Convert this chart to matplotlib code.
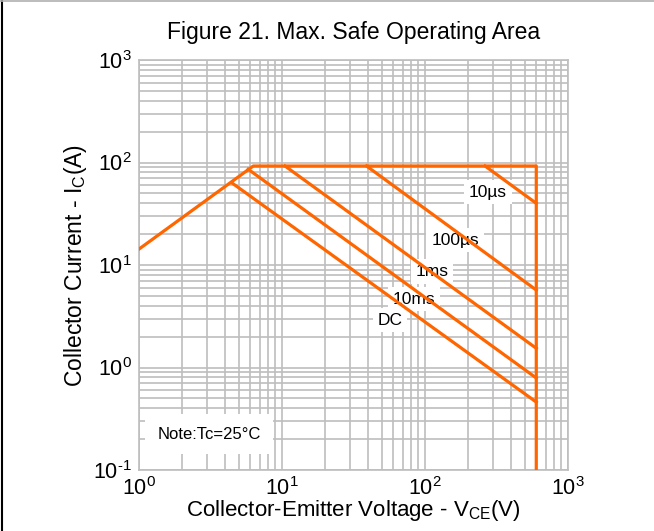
import matplotlib
matplotlib.use("Agg")
import matplotlib.pyplot as plt
from matplotlib.lines import Line2D

plt.rcParams['font.family'] = ['Liberation Sans', 'DejaVu Sans']
plt.rcParams['mathtext.fontset'] = 'custom'
plt.rcParams['mathtext.rm'] = 'Liberation Sans'
plt.rcParams['mathtext.it'] = 'Liberation Sans'

# SOA boundary (envelope): rising limit, current limit, voltage limit
env_v = [1, 6.3, 600, 600]
env_i = [14.3, 92.5, 92.5, 0.1]

# pulse-width limit lines
pulse_names = ["DC", "10ms", "1ms", "100µs", "10µs"]
pulse_v = [[4.45, 600], [5.8, 600], [10.5, 600], [39, 600], [263, 600]]
pulse_i = [[63.5, 0.46], [86, 0.79], [92.5, 1.54], [92.5, 5.7], [92.5, 40]]

# label positions (data coords)
label_v = [57, 84, 112, 162, 276]
label_i = [2.9, 4.65, 8.7, 17.5, 51.5]

x_ticks = [1, 10, 100, 1000]
x_tick_labels = ["10$^{0}$", "10$^{1}$", "10$^{2}$", "10$^{3}$"]
y_ticks = [0.1, 1, 10, 100, 1000]
y_tick_labels = ["10$^{\\text{-}1}$", "10$^{0}$", "10$^{1}$", "10$^{2}$", "10$^{3}$"]

orange = "#ff6600"
grid_c = "#bebebe"

fig = plt.figure(figsize=(6.54, 5.31), dpi=100)
ax = fig.add_axes([0.2125, 0.1149, 0.656, 0.772])
ax.set_xscale("log")
ax.set_yscale("log")
ax.set_xlim(1, 1000)
ax.set_ylim(0.1, 1000)
ax.set_xticks(x_ticks, x_tick_labels)
ax.set_yticks(y_ticks, y_tick_labels)

ax.grid(True, which="both", color=grid_c, linewidth=1.2, zorder=0)
ax.set_axisbelow(True)
for s in ax.spines.values():
    s.set_color(grid_c)
    s.set_linewidth(1.2)
ax.tick_params(which="both", length=0, labelsize=15.5)
ax.tick_params(axis="x", pad=5)
ax.tick_params(axis="y", pad=5)

for name, lv, li in zip(pulse_names, label_v, label_i):
    ax.text(lv, li, name, fontsize=12.5, ha="center", va="center", zorder=2,
            bbox=dict(facecolor="white", edgecolor="none", pad=3.5))

ax.text(3.1, 0.224, "Note:Tc=25°C", fontsize=12, ha="center", va="center", zorder=2,
        bbox=dict(facecolor="white", edgecolor="none", pad=9))

ax.plot(env_v, env_i, color=orange, linewidth=2.3, zorder=3)
for v, i in zip(pulse_v, pulse_i):
    ax.plot(v, i, color=orange, linewidth=2.3, zorder=3)

ax.set_title("Figure 21. Max. Safe Operating Area", fontsize=16.5, pad=15)
ax.set_xlabel("Collector-Emitter Voltage - V$_{\\mathrm{CE}}$(V)", fontsize=16, labelpad=-1)
ax.set_ylabel("Collector Current - I$_{\\mathrm{C}}$(A)", fontsize=16.5, labelpad=3)

# page border remnants
fig.add_artist(Line2D([0.003, 0.003], [0, 1], color="black", linewidth=1.5))
fig.add_artist(Line2D([0, 1], [0.999, 0.999], color="#b0b0b0", linewidth=1.2))

fig.savefig("out.png", dpi=100)
